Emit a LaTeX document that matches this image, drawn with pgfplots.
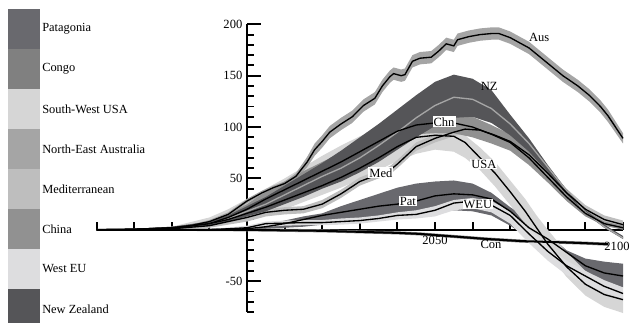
\documentclass[border=0pt]{standalone}
\usepackage{pgfplots}
\pgfplotsset{compat=1.18}
\usepackage{pgfplotstable}
\usepgfplotslibrary{fillbetween}
\usepackage{fontspec}
\setmainfont{Liberation Serif}

\definecolor{cPat}{RGB}{105,105,110}
\definecolor{cCon}{RGB}{128,128,128}
\definecolor{cUSA}{RGB}{214,214,214}
\definecolor{cAus}{RGB}{165,165,165}
\definecolor{cMed}{RGB}{190,190,190}
\definecolor{cChn}{RGB}{145,145,145}
\definecolor{cWEU}{RGB}{221,221,223}
\definecolor{cNZ}{RGB}{85,85,88}
\definecolor{cNZline}{RGB}{165,165,165}
\tikzset{lbl/.style={font=\fontsize{9.4}{11}\selectfont, inner sep=0.8pt}}

\pgfplotstableread{
year lo mid hi
1960 -0.5 0 0.5
1970 0 0.5 1
1980 1 2 3
1985 3 4 5
1990 6.5 8 9.5
1995 13 15 17
2000 26 28 30
2004 34 36 38
2007 39 41 43
2010 43 45 47
2013 49 52 55
2016 61 66 71
2018 72 78 84
2020 80 86 92
2022 89 95 101
2025 97 103 109
2028 104 110 116
2031 115 121 127
2034 122 128 134
2036 134 140 146
2038 143 149 155
2039 146 152 158
2041 144 150 156
2042 145 151 157
2044 158 164 170
2046 161 167 173
2049 162 168 174
2051 168 174 180
2053 175 181 187
2055 173 179 185
2056 179 185 191
2059 182 188 194
2062 184 190 196
2065 185 191 197
2067 185 191 197
2070 181 187 193
2072 177 183 189
2075 171 177 183
2077 165 171 177
2080 156 162 168
2084 144 150 156
2088 134 140 146
2091 125 131 137
2094 114 120 126
2096 105 111 117
2100 84 89 94
}\aus

\pgfplotstableread{
year lo mid hi
1960 0 0 0
1970 0 0.5 1
1980 1 2 3
1990 4 6 8
1995 8 11 14
2000 13 18 23
2005 18 25 32
2010 25 34 43
2015 32 43 54
2020 40 52 65
2025 47 60 77
2030 56 70 90
2035 66 82 103
2040 78 95 117
2045 90 109 131
2050 101 121 144
2055 109 129 151
2060 110 127 147
2065 104 118 136
2070 92 103 112
2075 76 84 89
2080 56 61 63
2085 35 38 39
2090 16 17 19
2095 2 3 5
2100 -9 -8 -6
}\nz

\pgfplotstableread{
year lo mid hi
1960 0 0 0
1970 0 0.5 1
1980 0.5 1.5 2.5
1990 4 6 8
1995 9 12 15
2000 15 20 25
2005 23 30 37
2010 31 39 47
2015 39 48 57
2020 48 57 66
2025 57 66 75
2030 67 76 85
2035 77 86 95
2040 87 96 105
2045 93 102 111
2050 94 104 113
2055 94 104 113
2060 90 100 110
2065 84 93 102
2070 77 85 93
2075 63 70 77
2080 46 51 56
2085 28 32 36
2090 13 16 19
2095 4 6 8
2100 0 2 4
}\chn

\pgfplotstableread{
year lo mid hi
1960 0 0 0
1970 -0.5 0 0.5
1980 0 1 2
1990 2 4 6
1995 5 8 11
2000 8 12 15
2005 13 17 20
2010 15 19 22
2015 16 20 23
2020 21 25 29
2025 31 35 39
2030 43 47 51
2035 50 54 58
2038 54 58 62
2040 60 64 68
2045 77 81 85
2050 85 89 93
2055 91 95 99
2058 94 98 102
2062 93 97 101
2066 88 92 96
2070 82 86 90
2075 69 73 77
2080 51 55 59
2085 32 36 40
2090 16 20 24
2095 6 10 14
2100 1 5 9
}\med

\pgfplotstableread{
year lo mid hi
1960 0 0 0
1970 0 0.5 1
1980 1 2 3
1990 3 6 12
1995 6 10 20
2000 9 16 30
2005 14 22 40
2010 20 29 50
2015 27 36 61
2020 34 43 72
2025 41 51 82
2030 49 60 91
2035 58 70 99
2040 67 81 103
2045 74 90 104
2050 78 92 100
2055 76 91 96
2058 70 85 92
2062 58 70 80
2066 42 55 66
2070 24 37 48
2074 6 18 30
2077 -8 2 14
2080 -22 -14 0
2085 -46 -36 -22
2090 -64 -53 -40
2095 -75 -63 -52
2100 -81 -68 -60
}\usa

\pgfplotstableread{
year lo mid hi
1960 0 0 0
1990 0 0 0
2000 0 1 2
2005 1 3 5
2010 2 6 9
2015 3 10 13
2020 5 14 16
2025 7 17 23
2030 9 20 29
2035 11 23 35
2040 13 25 41
2045 15 28 45
2050 17 33 47
2055 19 35 48
2060 18 34 45
2065 14 30 36
2070 4 18 22
2075 -8 2 10
2080 -22 -9 -4
2085 -38 -22 -20
2090 -48 -35 -28
2095 -53 -42 -31
2100 -56 -45 -33
}\pat

\pgfplotstableread{
year lo mid hi
1960 0 0 0
1990 -0.5 0 0.5
2000 0 2 4
2005 3 6 8
2010 4 6.5 9
2015 4.5 7 9.5
2020 4.5 7 9.5
2025 5 8 11
2030 6 9 12
2035 8 11 14
2040 10 14 17
2045 11 15 19
2050 13 19 23
2055 19 26 29
2060 21 28 31
2065 17 24 28
2070 6 14 18
2075 -13 -4 1
2080 -30 -21 -16
2085 -44 -35 -30
2090 -52 -45 -40
2095 -61 -55 -49
2100 -67 -62 -56
}\weu

\pgfplotstableread{
year lo mid hi
1960 -1 0 1
1980 -1 0 1
2000 -1.5 0 1.5
2010 -2 -0.5 1
2020 -2.5 -1 0.5
2030 -3.5 -2 -0.5
2040 -4.5 -3 -1.5
2046 -5.5 -4 -2.5
2055 -8 -6.5 -5
2064 -10.5 -9 -7.5
2073 -12.5 -11 -9.5
2082 -13.5 -12 -10.5
2090 -14.5 -13 -11.5
2096 -15.5 -14 -12.5
}\con

\newcommand{\band}[3]{%
  \addplot[draw=none, name path=#3hi, forget plot] table[x expr=\thisrow{year}-2000, y=hi]{#1};
  \addplot[draw=none, name path=#3lo, forget plot] table[x expr=\thisrow{year}-2000, y=lo]{#1};
  \addplot[fill=#2, draw=none, forget plot] fill between[of=#3hi and #3lo];
}
\newcommand{\mline}[2]{%
  \addplot[#2, forget plot] table[x expr=\thisrow{year}-2000, y=mid]{#1};
}

\begin{document}
\begin{tikzpicture}
\begin{axis}[
  at={(72.45pt,7.5pt)}, anchor=south west,
  scale only axis, width=394.8pt, height=215.775pt,
  xmin=-40, xmax=100, ymin=-80, ymax=200,
  clip=false,
  axis lines=middle,
  axis line style={-, line width=1.6pt, black},
  xtick={50}, xticklabels={2050},
  extra x ticks={100}, extra x tick labels={2100},
  extra x tick style={major x tick style={draw=none}, xticklabel style={xshift=-4.5pt, yshift=-5pt}},
  minor xtick={-40,-30,...,100},
  major x tick style={draw=none},
  ytick={-50,50,100,150,200},
  minor ytick={-80,-70,...,190},
  tick align=inside,
  major tick length=10.5pt, minor tick length=5.5pt,
  tick style={black, line width=1.4pt},
  /pgf/number format/assume math mode=true,
  ticklabel style={font=\fontsize{9.4}{11}\selectfont},
  xticklabel style={yshift=-1pt},
]
\band{\pat}{cPat}{pat}
\band{\con}{cCon}{con}
\band{\usa}{cUSA}{usa}
\band{\aus}{cAus}{aus}
\band{\med}{cMed}{med}
\band{\chn}{cChn}{chn}
\band{\weu}{cWEU}{weu}
\band{\nz}{cNZ}{nz}

\mline{\nz}{cNZline, line width=1pt}
\mline{\con}{black, line width=1.5pt}
\mline{\pat}{black, line width=1pt}
\mline{\weu}{black, line width=1pt}
\mline{\usa}{black, line width=1pt}
\mline{\med}{black, line width=1pt}
\mline{\chn}{black, line width=1pt}
\mline{\aus}{black, line width=1pt}

\node[lbl] at (axis cs:77.7,187) {Aus};
\node[lbl] at (axis cs:64.4,140) {NZ};
\node[lbl, fill=white] at (axis cs:52.4,105) {Chn};
\node[lbl, fill=white] at (axis cs:63.0,64) {USA};
\node[lbl, fill=white] at (axis cs:35.6,55.5) {Med};
\node[lbl, fill=white] at (axis cs:42.8,28) {Pat};
\node[lbl, fill=white] at (axis cs:61.4,25) {WEU};
\node[lbl] at (axis cs:64.9,-14.5) {Con};
\end{axis}
\foreach \i/\c/\t in {0/cPat/Patagonia, 1/cCon/Congo, 2/cUSA/South-West USA, 3/cAus/North-East Australia, 4/cMed/Mediterranean, 5/cChn/China, 6/cWEU/West EU, 7/cNZ/New Zealand}{
  \fill[\c] (6pt,234.75pt-30pt*\i) rectangle (30pt,204.75pt-30pt*\i);
  \node[anchor=west, inner sep=0pt, font=\fontsize{9.3}{11}\selectfont] at (31.5pt,219.75pt-30pt*\i) {\t};
}
\pgfresetboundingbox
\path[use as bounding box] (0,0) rectangle (477pt,241.5pt);
\end{tikzpicture}
\end{document}
